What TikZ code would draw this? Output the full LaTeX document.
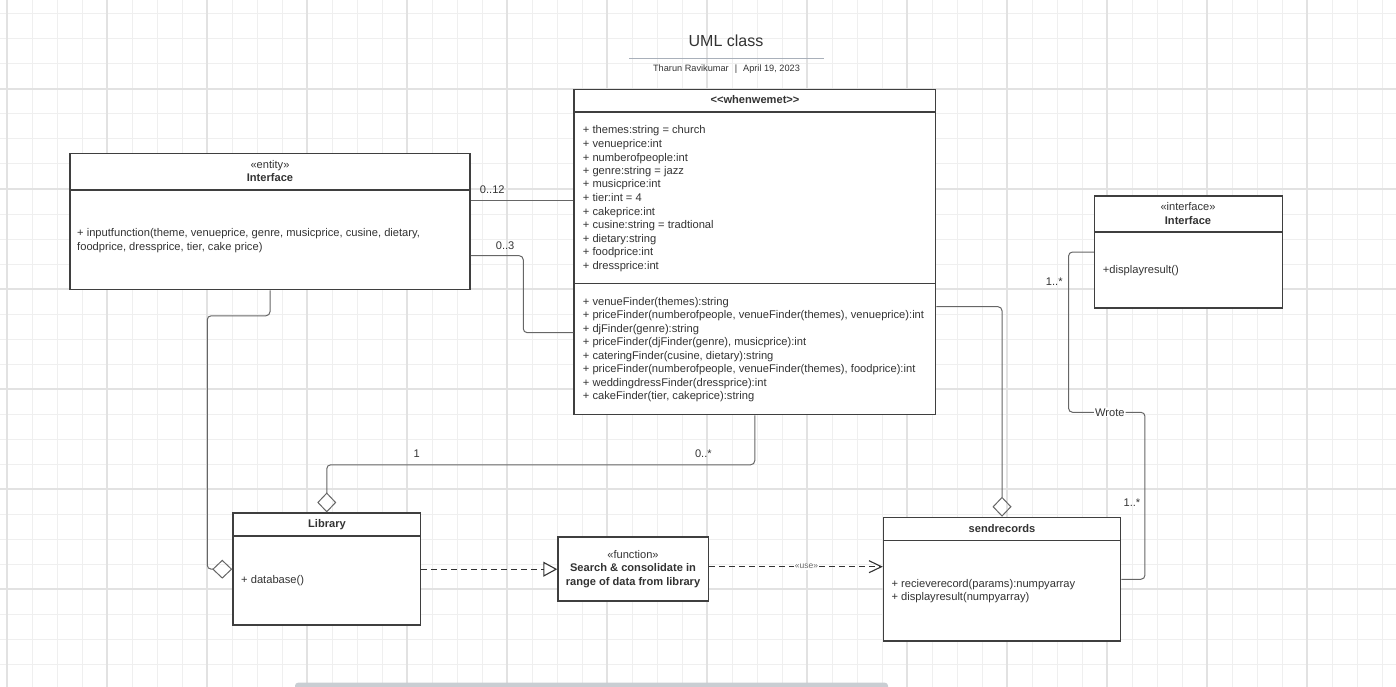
\documentclass[tikz,border=0pt]{standalone}
\usepackage{fontspec}
\setmainfont{Liberation Sans}
\usepackage{tikz}
\usepackage{xcolor}
\usetikzlibrary{arrows.meta}
\definecolor{gridminor}{HTML}{EFEFEF}
\definecolor{gridmajor}{HTML}{E2E2E2}
\definecolor{ink}{HTML}{333333}
\definecolor{edge}{HTML}{3F3F3F}
\definecolor{wire}{HTML}{666666}
\definecolor{rulegray}{HTML}{A9B0BA}
\definecolor{scroll}{HTML}{C9CED3}

\begin{document}
        \begin{tikzpicture}[x=1pt, y=-1pt,
            classbox/.style={draw=edge, line width=1.5pt, fill=white, inner sep=0pt},
            sepline/.style={draw=edge, line width=1.5pt},
            member/.style={anchor=base west, inner sep=0pt, text=ink, font=\fontsize{11.15}{13.5}\selectfont},
            heading/.style={anchor=base, inner sep=0pt, text=ink, font=\fontsize{11.1}{13.5}\selectfont\bfseries},
            stereo/.style={anchor=base, inner sep=0pt, text=ink, font=\fontsize{11.1}{13.5}\selectfont},
            mult/.style={inner sep=0pt, text=ink, font=\fontsize{11.1}{13.5}\selectfont},
            assoc/.style={draw=wire, line width=1pt, rounded corners=4pt},
            aggr/.style={assoc, -{Diamond[open, length=20pt, width=19pt]}},
            depend/.style={draw=ink, line width=1.1pt, dash pattern=on 6pt off 4pt}]
            \useasboundingbox (0,0) rectangle (1396,687);

            \foreach \gx in {7,32,...,1382}
                \draw[gridminor, line width=1pt] (\gx,0) -- (\gx,687);
            \foreach \gy in {14,39,...,664}
                \draw[gridminor, line width=1pt] (0,\gy) -- (1396,\gy);
            \foreach \gx in {7,107,...,1307}
                \draw[gridmajor, line width=1.3pt] (\gx,0) -- (\gx,687);
            \foreach \gy in {89,189,...,589}
                \draw[gridmajor, line width=1.3pt] (0,\gy) -- (1396,\gy);

            \node[anchor=base, inner sep=0pt, text=ink, font=\fontsize{16}{19}\selectfont] (ttl) at (726,46.4) {UML class};
            \draw[rulegray, line width=1pt] (629,58.3) -- (824,58.3);
            \node[anchor=base, inner sep=0pt, text=ink, font=\fontsize{9.2}{11}\selectfont] (sub) at (726.5,72) {Tharun Ravikumar\hspace{6pt}|\hspace{6pt}April 19, 2023};

            \node[classbox, minimum width=361.5pt, minimum height=325pt] (wwm) at (754.75,252) {};
            \node[classbox, minimum width=400pt, minimum height=136pt] (ent) at (270,221.5) {};
            \node[classbox, minimum width=188pt, minimum height=112pt] (ifc) at (1188.5,252) {};
            \node[classbox, minimum width=187.5pt, minimum height=112pt] (lib) at (326.75,569.2) {};
            \node[classbox, minimum width=150.5pt, minimum height=64pt] (fun) at (633.25,569.2) {};
            \node[classbox, minimum width=237pt, minimum height=123.5pt] (snd) at (1002,579.25) {};

            \foreach \b/\d in {wwm/23.2pt, wwm/194.8pt, ent/37.2pt, ifc/36.7pt, lib/23.7pt, snd/23.8pt}
                \draw[sepline] ([yshift=-\d]\b.north west) -- ([yshift=-\d]\b.north east);

            \node[heading] (wwmname) at (755,103.3) {<{}<whenwemet>{}>};
            \foreach \txt [count=\i from 0] in {{+ themes:string = church}, {+ venueprice:int},
                {+ numberofpeople:int}, {+ genre:string = jazz}, {+ musicprice:int}, {+ tier:int = 4},
                {+ cakeprice:int}, {+ cusine:string = tradtional}, {+ dietary:string},
                {+ foodprice:int}, {+ dressprice:int}}
                \node[member] (wwmatt\i) at (582.7,134+13.5*\i) {\txt};
            \foreach \txt [count=\i from 0] in {{+ venueFinder(themes):string},
                {+ priceFinder(numberofpeople, venueFinder(themes), venueprice):int},
                {+ djFinder(genre):string}, {+ priceFinder(djFinder(genre), musicprice):int},
                {+ cateringFinder(cusine, dietary):string},
                {+ priceFinder(numberofpeople, venueFinder(themes), foodprice):int},
                {+ weddingdressFinder(dressprice):int}, {+ cakeFinder(tier, cakeprice):string}}
                \node[member] (wwmop\i) at (582.7,305+13.5*\i) {\txt};

            \node[stereo] (entst) at (270,168) {«entity»};
            \node[heading] (entname) at (270,181.3) {Interface};
            \node[member] (entop0) at (77,236.7) {+ inputfunction(theme, venueprice, genre, musicprice, cusine, dietary,};
            \node[member] (entop1) at (77,250.2) {foodprice, dressprice, tier, cake price)};

            \node[stereo] (ifcst) at (1188,210.7) {«interface»};
            \node[heading] (ifcname) at (1188,224.7) {Interface};
            \node[member] (ifcop) at (1102.7,273.3) {+displayresult()};

            \node[heading] (libname) at (327,527.3) {Library};
            \node[member] (libop) at (241,583.3) {+ database()};

            \node[stereo] (funst) at (633,558.3) {«function»};
            \node[heading] (funl1) at (633,571.7) {Search \& consolidate in};
            \node[heading] (funl2) at (633,585.3) {range of data from library};

            \node[heading] (sndname) at (1002,532) {sendrecords};
            \node[member] (sndop0) at (891.3,587.3) {+ recieverecord(params):numpyarray};
            \node[member] (sndop1) at (891.3,600.7) {+ displayresult(numpyarray)};

            \draw[assoc] ([yshift=21.5pt]ent.east) -- node[mult, pos=0.21, yshift=10.7pt] (m012) {0..12} ([yshift=52pt]wwm.west);
            \draw[assoc] ([yshift=-34.2pt]ent.east) -- node[mult, pos=0.655, yshift=10.4pt] (m03) {0..3} ++(52.5,0) |- ([yshift=-80.7pt]wwm.west);
            \draw[aggr] (ent.south) -- ++(0,25.5) -| ([xshift=-25pt]lib.west) -- (lib.west);
            \draw[aggr] (wwm.south) -- ++(0,49.5) -| node[mult, pos=0.06, yshift=11pt] (m0s) {0..*}
                node[mult, pos=0.395, yshift=11pt] (m1) {1} (lib.north);
            \draw[aggr] ([yshift=-54.7pt]wwm.east) -| (snd.north);
            \draw[assoc] (ifc.west) -- ++(-25.2,0) -- node[mult, pos=0.185, xshift=-14.3pt] (m1s) {1..*} ++(0,160.3)
                -- node[mult, pos=0.54, fill=white, inner sep=1pt] (wrote) {Wrote} ++(76.4,0)
                |- node[mult, pos=0.271, xshift=-13pt] (m1t) {1..*} (snd.east);

            \draw[depend, -{Triangle[open, length=14pt, width=15pt]}] (lib.east) -- (fun.west);
            \draw[depend, -{Straight Barb[length=12.5pt, width=12pt]}] ([yshift=2.5pt]fun.east)
                -- node[pos=0.56, fill=white, inner sep=1pt, text=wire, font=\fontsize{8.5}{9}\selectfont] (use) {«use»}
                ([yshift=12.55pt]snd.west);

            \fill[scroll, rounded corners=3pt] (295,682.7) rectangle (888,692);
        \end{tikzpicture}
\end{document}
